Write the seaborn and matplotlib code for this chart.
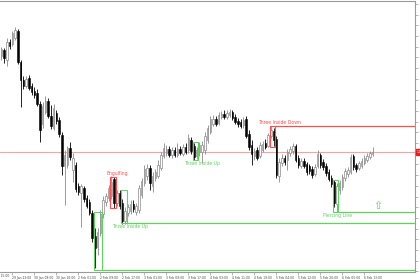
import numpy as np
import pandas as pd
import matplotlib
matplotlib.use("Agg")
import matplotlib.pyplot as plt
import matplotlib.transforms as mtransforms
from matplotlib.patches import Rectangle
import seaborn as sns

# ---------------- data (hourly OHLC) ----------------
opens = [1.1216, 1.1222, 1.1212, 1.1230, 1.1228, 1.1234, 1.1241, 1.1210, 1.1192, 1.1186,
         1.1194, 1.1186, 1.1181, 1.1179, 1.1168, 1.1148, 1.1160, 1.1171, 1.1156, 1.1144,
         1.1159, 1.1152, 1.1137, 1.1106, 1.1107, 1.1124, 1.1102, 1.1107, 1.1086, 1.1079,
         1.1084, 1.1074, 1.1070, 1.1059, 1.1036, 1.1025, 1.1039, 1.1058, 1.1070, 1.1074,
         1.1076, 1.1093, 1.1069, 1.1079, 1.1069, 1.1051, 1.1059, 1.1061, 1.1068, 1.1060,
         1.1062, 1.1077, 1.1089, 1.1096, 1.1104, 1.1086, 1.1094, 1.1096, 1.1104, 1.1116,
         1.1119, 1.1123, 1.1117, 1.1122, 1.1117, 1.1123, 1.1118, 1.1125, 1.1122, 1.1132,
         1.1126, 1.1116, 1.1120, 1.1120, 1.1122, 1.1132, 1.1140, 1.1148, 1.1153, 1.1149,
         1.1155, 1.1158, 1.1155, 1.1157, 1.1160, 1.1155, 1.1151, 1.1150, 1.1147, 1.1153,
         1.1138, 1.1127, 1.1116, 1.1122, 1.1116, 1.1122, 1.1129, 1.1126, 1.1136, 1.1141,
         1.1133, 1.1096, 1.1109, 1.1114, 1.1112, 1.1119, 1.1121, 1.1126, 1.1114, 1.1106,
         1.1111, 1.1108, 1.1106, 1.1103, 1.1098, 1.1106, 1.1117, 1.1110, 1.1106, 1.1100,
         1.1094, 1.1090, 1.1068, 1.1082, 1.1085, 1.1094, 1.1098, 1.1100, 1.1116, 1.1107,
         1.1104, 1.1106, 1.1109, 1.1112, 1.1115, 1.1118]
highs = [1.1225, 1.1224, 1.1234, 1.1233, 1.1241, 1.1245, 1.1243, 1.1212, 1.1196, 1.1196,
         1.1197, 1.1189, 1.1185, 1.1183, 1.1171, 1.1170, 1.1176, 1.1174, 1.1167, 1.1168,
         1.1162, 1.1155, 1.1140, 1.1122, 1.1126, 1.1130, 1.1119, 1.1110, 1.1089, 1.1088,
         1.1086, 1.1077, 1.1073, 1.1062, 1.1044, 1.1044, 1.1062, 1.1076, 1.1079, 1.1087,
         1.1096, 1.1095, 1.1082, 1.1082, 1.1073, 1.1065, 1.1068, 1.1072, 1.1072, 1.1069,
         1.1087, 1.1094, 1.1107, 1.1108, 1.1107, 1.1100, 1.1103, 1.1112, 1.1120, 1.1129,
         1.1127, 1.1126, 1.1125, 1.1125, 1.1129, 1.1126, 1.1128, 1.1129, 1.1138, 1.1135,
         1.1129, 1.1125, 1.1130, 1.1131, 1.1140, 1.1147, 1.1156, 1.1157, 1.1156, 1.1160,
         1.1161, 1.1162, 1.1162, 1.1163, 1.1162, 1.1158, 1.1154, 1.1153, 1.1155, 1.1156,
         1.1142, 1.1132, 1.1124, 1.1125, 1.1130, 1.1131, 1.1133, 1.1139, 1.1146, 1.1144,
         1.1136, 1.1114, 1.1118, 1.1117, 1.1123, 1.1126, 1.1129, 1.1128, 1.1117, 1.1114,
         1.1114, 1.1110, 1.1108, 1.1106, 1.1108, 1.1122, 1.1119, 1.1113, 1.1109, 1.1103,
         1.1097, 1.1092, 1.1089, 1.1092, 1.1098, 1.1104, 1.1105, 1.1118, 1.1118, 1.1109,
         1.1111, 1.1114, 1.1117, 1.1119, 1.1121, 1.1125]
lows = [1.1212, 1.1209, 1.1206, 1.1223, 1.1226, 1.1232, 1.1208, 1.1165, 1.1183, 1.1184,
        1.1182, 1.1177, 1.1174, 1.1166, 1.1130, 1.1144, 1.1158, 1.1154, 1.1143, 1.1142,
        1.1148, 1.1135, 1.1097, 1.1067, 1.1104, 1.1112, 1.1090, 1.1080, 1.1077, 1.1045,
        1.1070, 1.1064, 1.1057, 1.1030, 1.1004, 1.1017, 1.1036, 1.1054, 1.1066, 1.1071,
        1.1073, 1.1064, 1.1066, 1.1063, 1.1048, 1.1048, 1.1056, 1.1058, 1.1060, 1.1057,
        1.1059, 1.1074, 1.1086, 1.1092, 1.1082, 1.1080, 1.1091, 1.1094, 1.1102, 1.1114,
        1.1116, 1.1115, 1.1114, 1.1115, 1.1115, 1.1117, 1.1116, 1.1118, 1.1119, 1.1118,
        1.1112, 1.1113, 1.1116, 1.1109, 1.1118, 1.1129, 1.1138, 1.1146, 1.1146, 1.1147,
        1.1153, 1.1153, 1.1153, 1.1155, 1.1152, 1.1148, 1.1145, 1.1144, 1.1144, 1.1134,
        1.1122, 1.1107, 1.1112, 1.1112, 1.1114, 1.1120, 1.1123, 1.1125, 1.1134, 1.1126,
        1.1094, 1.1090, 1.1106, 1.1107, 1.1102, 1.1116, 1.1118, 1.1110, 1.1104, 1.1104,
        1.1104, 1.1097, 1.1098, 1.1094, 1.1096, 1.1104, 1.1104, 1.1102, 1.1096, 1.1091,
        1.1085, 1.1065, 1.1060, 1.1078, 1.1082, 1.1091, 1.1095, 1.1098, 1.1102, 1.1100,
        1.1102, 1.1104, 1.1107, 1.1110, 1.1113, 1.1116]
closes = [1.1223, 1.1214, 1.1230, 1.1226, 1.1239, 1.1242, 1.1210, 1.1192, 1.1186, 1.1193,
          1.1184, 1.1180, 1.1177, 1.1168, 1.1142, 1.1166, 1.1171, 1.1156, 1.1146, 1.1164,
          1.1151, 1.1138, 1.1106, 1.1117, 1.1124, 1.1115, 1.1114, 1.1083, 1.1080, 1.1086,
          1.1073, 1.1066, 1.1059, 1.1034, 1.1024, 1.1040, 1.1058, 1.1072, 1.1076, 1.1084,
          1.1090, 1.1069, 1.1079, 1.1066, 1.1051, 1.1061, 1.1065, 1.1068, 1.1063, 1.1066,
          1.1084, 1.1091, 1.1103, 1.1104, 1.1089, 1.1096, 1.1100, 1.1107, 1.1117, 1.1124,
          1.1123, 1.1117, 1.1122, 1.1117, 1.1123, 1.1119, 1.1125, 1.1120, 1.1134, 1.1121,
          1.1115, 1.1122, 1.1127, 1.1127, 1.1136, 1.1144, 1.1153, 1.1153, 1.1148, 1.1157,
          1.1158, 1.1155, 1.1159, 1.1160, 1.1154, 1.1150, 1.1148, 1.1146, 1.1152, 1.1136,
          1.1125, 1.1118, 1.1121, 1.1114, 1.1127, 1.1128, 1.1125, 1.1137, 1.1142, 1.1132,
          1.1097, 1.1110, 1.1114, 1.1110, 1.1120, 1.1123, 1.1126, 1.1112, 1.1107, 1.1111,
          1.1106, 1.1100, 1.1101, 1.1097, 1.1105, 1.1118, 1.1107, 1.1105, 1.1099, 1.1093,
          1.1088, 1.1069, 1.1086, 1.1089, 1.1095, 1.1101, 1.1102, 1.1115, 1.1105, 1.1103,
          1.1109, 1.1111, 1.1114, 1.1116, 1.1119, 1.1120]

time_label_bars = [4, 12, 20, 28, 36, 44, 52, 60, 68, 76, 84, 92, 100, 108, 116, 124, 132]
time_labels = ["29 Jan 23:00", "30 Jan 08:00", "30 Jan 16:00", "2 Feb 01:00", "2 Feb 09:00",
               "2 Feb 17:00", "3 Feb 01:00", "3 Feb 09:00", "3 Feb 17:00", "4 Feb 03:00",
               "4 Feb 11:00", "4 Feb 19:00", "5 Feb 04:00", "5 Feb 12:00", "5 Feb 20:00",
               "6 Feb 05:00", "6 Feb 13:00"]
first_partial_bar = -4
first_partial_label = "29 Jan 15:00"

# candlestick pattern marks
pattern_names = ["", "Engulfing", "Three Inside Up", "Three Inside Up", "Three Inside Down", "Piercing Line"]
pattern_start = [34, 40, 44, 70, 98, 121]
pattern_end = [36, 41, 45, 71, 99, 122]
pattern_top = [1.1060, 1.1095, 1.1082, 1.1130, 1.1146, 1.1092]
pattern_bottom = [1.1002, 1.1064, 1.1049, 1.1112, 1.1125, 1.1060]
pattern_bullish = [True, False, True, True, False, True]
pattern_line = [True, False, True, False, True, True]
pattern_label_bar = [35, 42.0, 46.8, 73.0, 101.0, 122.4]

arrow_bar = 137
arrow_price = 1.1066

# ---------------- styling ----------------
sns.set_theme(style="white")
plt.rcParams["font.family"] = ["DejaVu Sans"]

GREEN = "#5fd35f"
RED = "#ff4d4d"
PINK = "#f5a3a3"
AXIS = "#9a9a9a"
BULL_EDGE = "#8a8a8a"

df = pd.DataFrame({"open": opens, "high": highs, "low": lows, "close": closes})
df["bar"] = np.arange(len(df))
df["bull"] = df["close"] >= df["open"]

fig = plt.figure(figsize=(4.2, 2.8), dpi=100)
fig.patch.set_facecolor("white")
ax = fig.add_axes([0.0, 8 / 280, 415 / 420, 271 / 280])
ax.set_facecolor("white")

# wicks
for bull, sub in df.groupby("bull"):
    ax.vlines(sub["bar"], sub["low"], sub["high"],
              color=BULL_EDGE if bull else "black", lw=0.6, zorder=2)

# bodies
bw = 0.62
bull = df[df["bull"]]
bear = df[~df["bull"]]
ax.bar(bull["bar"], (bull["close"] - bull["open"]).clip(lower=0.00005), bottom=bull["open"],
       width=bw, facecolor="white", edgecolor=BULL_EDGE, linewidth=0.5, zorder=3)
ax.bar(bear["bar"], (bear["open"] - bear["close"]).clip(lower=0.00005), bottom=bear["close"],
       width=bw, facecolor="black", edgecolor="black", linewidth=0.4, zorder=3)

xmax = -0.5 + 415 / 2.75
ax.set_xlim(-0.5, xmax)
ax.set_ylim(1.1000, 1.1271)

# current price line
last = closes[-1]
ax.axhline(last, color=PINK, lw=0.8, zorder=1)

# patterns
for name, s, e, top, bot, isbull, line, lb in zip(pattern_names, pattern_start, pattern_end,
                                                  pattern_top, pattern_bottom, pattern_bullish,
                                                  pattern_line, pattern_label_bar):
    col = GREEN if isbull else RED
    ax.add_patch(Rectangle((s - 0.5, bot), e - s + 1, top - bot, fill=False,
                           edgecolor=col, lw=0.8, zorder=4))
    if line:
        lvl = bot if isbull else top
        ax.hlines(lvl, e + 0.5, xmax, color=col, lw=0.9, zorder=4)
    if name:
        if isbull:
            ax.text(lb, bot - 0.00012, name, color=col, fontsize=3.3, ha="center", va="top", zorder=5)
        else:
            ax.text(lb, top + 0.00012, name, color=col, fontsize=3.3, ha="center", va="bottom", zorder=5)

ax.text(arrow_bar, arrow_price, "\u21e7", color=GREEN, fontsize=8, ha="center", va="center", zorder=5)

# axes / ticks
ax.spines["left"].set_visible(False)
for side in ["top", "right", "bottom"]:
    ax.spines[side].set_visible(True)
    ax.spines[side].set_color(AXIS)
    ax.spines[side].set_linewidth(0.8)

yt = np.arange(1.1268, 1.1000, -0.00107)
ax.yaxis.tick_right()
ax.set_yticks(yt)
ax.set_yticklabels(["" if abs(v - last) < 0.0005 else f"{v:.5f}" for v in yt])
ax.tick_params(axis="y", right=True, left=False, length=2, width=0.5, color=AXIS,
               labelsize=2.2, labelcolor="#444444", pad=1)
ax.set_xticks(time_label_bars)
ax.set_xticklabels(time_labels, ha="left")
ax.tick_params(axis="x", bottom=True, length=2, width=0.5, color=AXIS,
               labelsize=2.2, labelcolor="#444444", pad=0.8)
ax.text(first_partial_bar, -0.006, first_partial_label, transform=ax.get_xaxis_transform(),
        fontsize=2.2, color="#444444", ha="left", va="top", clip_on=False)

# price tag
trans = mtransforms.blended_transform_factory(ax.transAxes, ax.transData)
ax.text(1.004, last, f"{last:.5f}", transform=trans, fontsize=2.2, color="white",
        ha="left", va="center", clip_on=False,
        bbox=dict(boxstyle="square,pad=0.3", facecolor="#e02020", edgecolor="#e02020"))

ax.grid(False)
fig.savefig("out.png", dpi=100)
